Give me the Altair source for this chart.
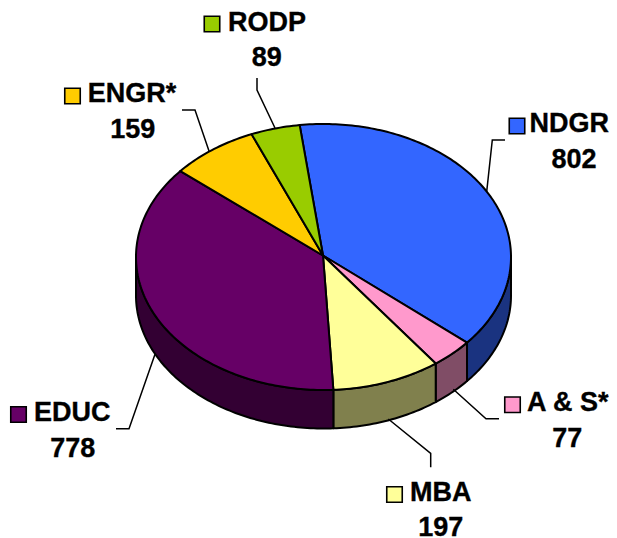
import math
import altair as alt
import pandas as pd

# ---- chart values ----
categories = ["NDGR", "A & S*", "MBA", "EDUC", "ENGR*", "RODP"]
values = [802, 77, 197, 778, 159, 89]
top_colors = ["#3366FF", "#FF99CC", "#FFFF99", "#660066", "#FFCC00", "#99CC00"]
wall_colors = ["#1A3380", "#804D66", "#80804D", "#330033", "#806600", "#4D6600"]

# ---- layout (page pixels) ----
W, H = 601, 530
CX, CY, RX, RY, DEPTH = 323.5, 257.0, 187.5, 133.0, 38.5
APEX = (323.0, 255.5)
START = -7.3
name_pos = {"NDGR": (529.5, 131.7), "A & S*": (527, 410.7), "MBA": (410, 500.7),
            "EDUC": (34, 420.7), "ENGR*": (87.7, 101.7), "RODP": (228, 30.5)}
value_pos = {"NDGR": (574, 167.7), "A & S*": (567.3, 446.7), "MBA": (440.7, 536.2),
             "EDUC": (72.7, 456.7), "ENGR*": (132.7, 138), "RODP": (266.7, 66)}
key_pos = {"NDGR": (517, 126), "A & S*": (512.5, 404.7), "MBA": (394.5, 494.5),
           "EDUC": (18.5, 414.5), "ENGR*": (72.5, 96), "RODP": (212, 24)}
leaders = {
    "NDGR": [(505, 140), (492.3, 140), (486.7, 191.7)],
    "A & S*": [(499, 418.7), (486, 418.7), (453.3, 389.3)],
    "MBA": [(430.7, 467.3), (430.7, 453.3), (388.3, 419)],
    "EDUC": [(116, 428.7), (129, 428.7), (155, 354.3)],
    "ENGR*": [(182, 110), (195, 110), (209, 151)],
    "RODP": [(257, 78), (257, 90), (275, 128)],
}

XS = alt.Scale(domain=[8, 8 + W], range=[0, W])
YS = alt.Scale(domain=[8, 8 + H], range=[0, H])
X = alt.X("x:Q", scale=XS, axis=None)
Y = alt.Y("y:Q", scale=YS, axis=None)


def rim(a, dy=0.0):
    r = math.radians(a)
    return (CX + RX * math.sin(r), CY - RY * math.cos(r) + dy)


def arc_angles(a0, a1):
    n = max(2, int(abs(a1 - a0)) + 1)
    return [a0 + (a1 - a0) * k / (n - 1) for k in range(n)]


def polygon(points, fill):
    df = pd.DataFrame({"x": [p[0] for p in points], "y": [p[1] for p in points],
                       "i": list(range(len(points)))})
    return alt.Chart(df).mark_line(
        fill=fill, stroke="black", strokeWidth=2, strokeJoin="round", interpolate="linear"
    ).encode(x=X, y=Y, order=alt.Order("i:Q"))


total = sum(values)
bounds = [START]
for v in values:
    bounds.append(bounds[-1] + 360.0 * v / total)

walls, faces = [], []
for k in range(len(values)):
    a0, a1 = bounds[k], bounds[k + 1]
    arc = arc_angles(a0, a1)
    pts = [APEX] + [rim(a) for a in arc] + [APEX]
    faces.append(polygon(pts, top_colors[k]))
    w0, w1 = max(a0, 90), min(a1, 270)
    if w1 > w0:
        wa = arc_angles(w0, w1)
        wp = [rim(a) for a in wa] + [rim(a, DEPTH) for a in reversed(wa)]
        wp.append(wp[0])
        walls.append(polygon(wp, wall_colors[k]))

lines = []
for name, pts in leaders.items():
    df = pd.DataFrame({"x": [p[0] for p in pts], "y": [p[1] for p in pts],
                       "i": list(range(len(pts)))})
    lines.append(alt.Chart(df).mark_line(color="black", strokeWidth=1.5).encode(
        x=X, y=Y, order=alt.Order("i:Q")))

table = pd.DataFrame({
    "name": categories,
    "value": [str(v) for v in values],
    "fill": top_colors,
    "kx": [key_pos[c][0] for c in categories],
    "ky": [key_pos[c][1] for c in categories],
    "nx": [name_pos[c][0] for c in categories],
    "ny": [name_pos[c][1] for c in categories],
    "vx": [value_pos[c][0] for c in categories],
    "vy": [value_pos[c][1] for c in categories],
})
keys = alt.Chart(table).mark_square(size=240, opacity=1, stroke="black", strokeWidth=1.6).encode(
    x=alt.X("kx:Q", scale=XS, axis=None), y=alt.Y("ky:Q", scale=YS, axis=None),
    fill=alt.Fill("fill:N", scale=None))
font = dict(font="Liberation Sans", fontWeight="bold", fontSize=27, color="black",
            baseline="alphabetic", stroke="black", strokeWidth=0.35)
names = alt.Chart(table).mark_text(align="left", **font).encode(
    x=alt.X("nx:Q", scale=XS, axis=None), y=alt.Y("ny:Q", scale=YS, axis=None), text="name:N")
nums = alt.Chart(table).mark_text(align="center", **font).encode(
    x=alt.X("vx:Q", scale=XS, axis=None), y=alt.Y("vy:Q", scale=YS, axis=None), text="value:N")

chart = alt.layer(*walls, *faces, *lines, keys, names, nums).properties(
    width=W, height=H, padding=0, autosize=alt.AutoSizeParams(type="none"), background="white"
).configure_view(stroke=None)

chart.save("out.html", embed_options={"renderer": "svg", "actions": False})
